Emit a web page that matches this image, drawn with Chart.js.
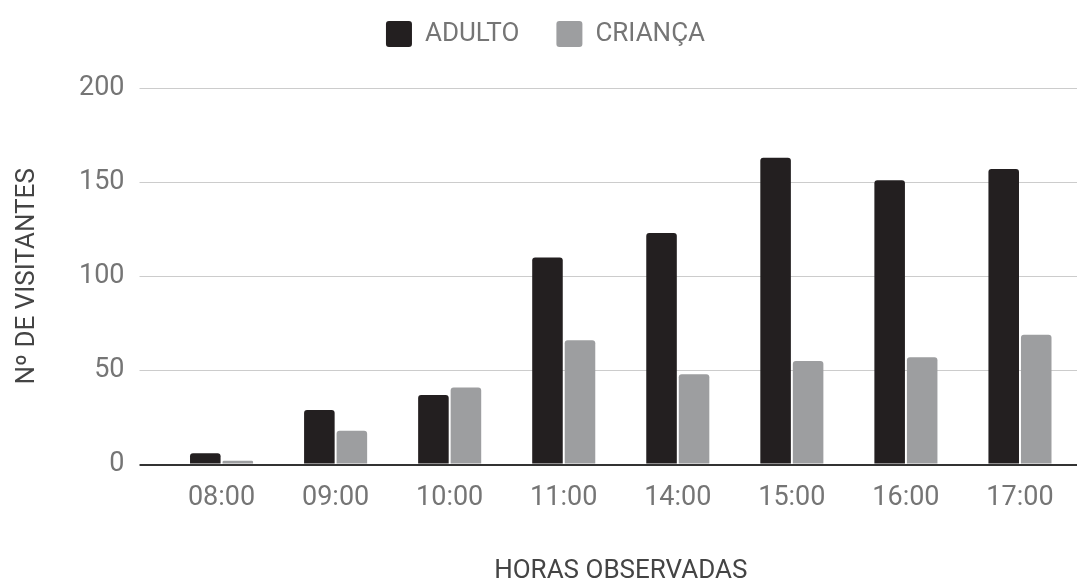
<!DOCTYPE html>
<html>
<head>
<meta charset="utf-8">
<script src="https://cdn.jsdelivr.net/npm/chart.js@4.4.1/dist/chart.umd.min.js"></script>
<style>
  html, body { margin: 0; padding: 0; background: #fff; }
  #wrap { width: 1087px; height: 579px; }
</style>
</head>
<body>
<div id="wrap"><canvas id="chart1"></canvas></div>
<script>
  var horas = ['08:00', '09:00', '10:00', '11:00', '14:00', '15:00', '16:00', '17:00']
  var adulto = [6, 29, 37, 110, 123, 163, 151, 157]
  var crianca = [2, 18, 41, 66, 48, 55, 57, 69]
  var yTicks = [0, 50, 100, 150, 200]

  var corAdulto = '#231f20'
  var corCrianca = '#9d9ea0'
  var cinzaTexto = '#757575'

  // legend needs a bit more room under it
  var legendGap = {
    id: 'legendGap',
    beforeInit: function(chart) {
      var fit = chart.legend.fit
      chart.legend.fit = function() {
        fit.bind(chart.legend)()
        this.height += 31
      }
    }
  }

  var ctx = document.getElementById('chart1').getContext('2d')
  var myChart = new Chart(ctx, {
    type: 'bar',
    data: {
      labels: horas,
      datasets: [
        {
          label: 'ADULTO',
          data: adulto,
          backgroundColor: corAdulto,
          borderRadius: { topLeft: 3, topRight: 3 },
          borderSkipped: 'start'
        },
        {
          label: 'CRIANÇA',
          data: crianca,
          backgroundColor: corCrianca,
          borderRadius: { topLeft: 3, topRight: 3 },
          borderSkipped: 'start'
        }
      ]
    },
    plugins: [legendGap],
    options: {
      responsive: true,
      maintainAspectRatio: false,
      animation: false,
      layout: { padding: { top: -16, left: 14, right: 10, bottom: -5 } },
      datasets: {
        bar: { categoryPercentage: 0.57, barPercentage: 0.94 }
      },
      plugins: {
        legend: {
          position: 'top',
          labels: {
            boxWidth: 26,
            boxHeight: 26,
            useBorderRadius: true,
            borderRadius: 3,
            color: cinzaTexto,
            padding: 37,
            font: { family: 'Roboto', size: 26 }
          }
        },
        tooltip: { enabled: false }
      },
      scales: {
        x: {
          grid: { display: false },
          border: { display: false },
          ticks: {
            color: cinzaTexto,
            padding: 9,
            font: { family: 'Roboto', size: 27 }
          },
          title: {
            display: true,
            text: 'HORAS OBSERVADAS',
            color: '#444',
            padding: { top: 35, bottom: 0 },
            font: { family: 'Roboto', size: 26, lineHeight: 1 }
          }
        },
        y: {
          min: 0,
          max: 200,
          afterBuildTicks: function(axis) {
            axis.ticks = yTicks.map(function(v) { return { value: v } })
          },
          border: { display: false },
          grid: {
            drawTicks: true,
            tickLength: 25,
            color: function(c) { return c.tick && c.tick.value === 0 ? '#333' : '#cccccc' },
            lineWidth: function(c) { return c.tick && c.tick.value === 0 ? 2 : 1 }
          },
          ticks: {
            color: cinzaTexto,
            padding: 15,
            font: { family: 'Roboto', size: 27 }
          },
          title: {
            display: true,
            text: 'Nº DE VISITANTES',
            color: '#444',
            padding: { top: 0, bottom: 24 },
            font: { family: 'Roboto', size: 26, lineHeight: 1 }
          }
        }
      }
    }
  })
</script>
</body>
</html>
